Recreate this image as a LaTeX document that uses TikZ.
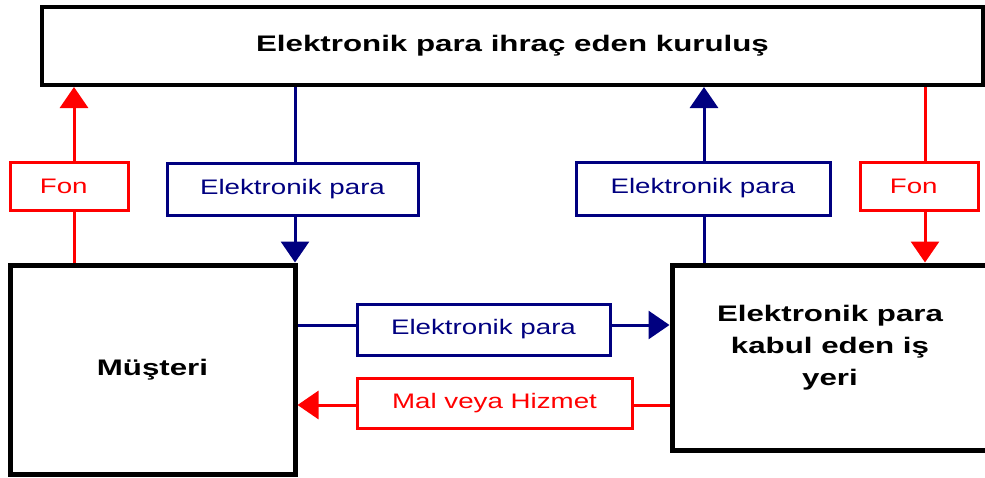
\documentclass[tikz,border=0pt]{standalone}
\usepackage{fontspec}
\setmainfont{Liberation Sans}
\usetikzlibrary{arrows.meta}
\definecolor{navy}{RGB}{0,0,128}
\definecolor{pred}{RGB}{255,0,0}
\newcommand{\hreg}[1]{\scalebox{1.32}[1]{#1}}
\newcommand{\hbld}[1]{\scalebox{1.39}[1]{#1}}
\tikzset{
  bigbox/.style={draw=black, line width=5pt, fill=white, inner sep=0pt,
    font=\fontsize{22.5}{32}\selectfont\bfseries},
  bluebox/.style={draw=navy, line width=3pt, fill=white, inner sep=0pt, text=navy,
    font=\fontsize{21}{25}\selectfont},
  redbox/.style={draw=pred, line width=3pt, fill=white, inner sep=0pt, text=pred,
    font=\fontsize{21}{25}\selectfont},
  blueline/.style={draw=navy, line width=3pt},
  redline/.style={draw=pred, line width=3pt},
  tip/.style={-{Triangle[length=21pt,width=28pt]}}
}
\begin{document}
\begin{tikzpicture}[x=1pt,y=-1pt]
\useasboundingbox (0,0) rectangle (985,477);
% main boxes
\node[bigbox, line width=4pt, minimum width=941pt, minimum height=78pt] (top) at (512.5,46) {\hbld{Elektronik para ihraç eden kuruluş}};
\node[bigbox, minimum width=285pt, minimum height=209pt] (mus) at (152.5,369.5) {\hbld{Müşteri}};
\node[bigbox, minimum width=318pt, minimum height=185pt] (mer) at (831,357.5) {};
\node[font=\fontsize{22.5}{32}\selectfont\bfseries, inner sep=0pt] (mertext) at (830,347)
  {\hbld{\begin{tabular}{@{}c@{}}Elektronik para\\kabul eden iş\\yeri\end{tabular}}};
% label boxes
\node[redbox, minimum width=118pt, minimum height=48pt] (fon1) at (69,186) {\hreg{Fon\hspace{8pt}}};
\node[bluebox, minimum width=251pt, minimum height=52pt] (ep1) at (292.5,189) {\hreg{Elektronik para}};
\node[bluebox, minimum width=254pt, minimum height=53pt] (ep2) at (703,188.5) {\hreg{Elektronik para}};
\node[redbox, minimum width=118pt, minimum height=48pt] (fon2) at (919,186) {\hreg{Fon\hspace{8pt}}};
\node[bluebox, minimum width=253pt, minimum height=51pt] (ep3) at (483.5,329.5) {\hreg{Elektronik para}};
\node[redbox, minimum width=275pt, minimum height=50pt] (mal) at (494.5,403) {\hreg{Mal veya Hizmet}};
% guide coordinates
\coordinate (xa) at (74,0);
\coordinate (xb) at (295,0);
\coordinate (xc) at (704,0);
\coordinate (xd) at (925,0);
\coordinate (ya) at (0,325);
\coordinate (yb) at (0,405);
% connectors
\draw[redline] (xa |- mus.north) -- (xa |- fon1.south);
\draw[redline, tip] (xa |- fon1.north) -- (xa |- top.south);
\draw[blueline] (xb |- top.south) -- (xb |- ep1.north);
\draw[blueline, tip] (xb |- ep1.south) -- (xb |- mus.north);
\draw[blueline] (xc |- mer.north) -- (xc |- ep2.south);
\draw[blueline, tip] (xc |- ep2.north) -- (xc |- top.south);
\draw[redline] (xd |- top.south) -- (xd |- fon2.north);
\draw[redline, tip] (xd |- fon2.south) -- (xd |- mer.north);
\draw[blueline] (mus.east |- ya) -- (ep3.west |- ya);
\draw[blueline, tip] (ep3.east |- ya) -- (mer.west |- ya);
\draw[redline] (mer.west |- yb) -- (mal.east |- yb);
\draw[redline, tip] (mal.west |- yb) -- (mus.east |- yb);
\end{tikzpicture}
\end{document}
